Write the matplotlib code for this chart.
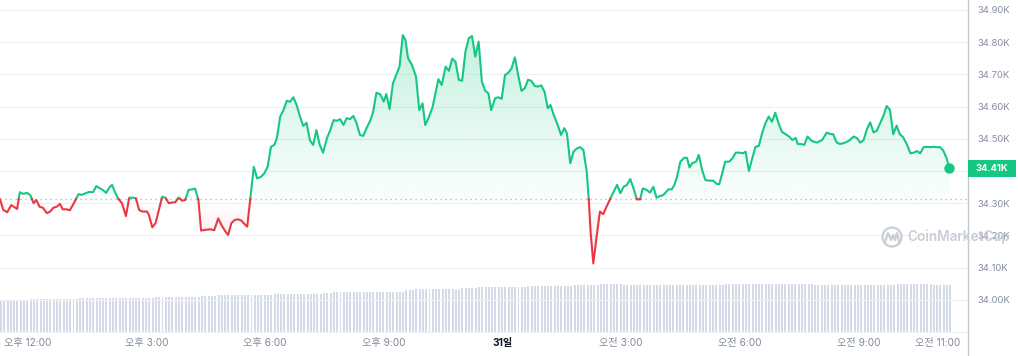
import numpy as np
import matplotlib
matplotlib.use('Agg')
import matplotlib.pyplot as plt
from matplotlib.patches import Rectangle, Circle
from matplotlib.path import Path
import matplotlib.transforms as mtransforms
from matplotlib.colors import to_rgb

plt.rcParams['font.family'] = ['Inter', 'Noto Sans CJK KR', 'DejaVu Sans']

# ---------------- data ----------------
# minutes since window start (11:18), price in USD
price_minutes = [
    0, 5, 11, 17, 21, 26, 30, 35, 41, 46, 51, 55, 60, 65, 71, 76, 81, 86, 91, 95,
    101, 106, 112, 119, 124, 130, 135, 141, 146, 151, 156, 161, 166, 170, 174, 179,
    185, 191, 196, 201, 206, 211, 216, 223, 226, 231, 236, 241, 246, 251, 256, 261,
    266, 271, 276, 281, 286, 291, 296, 301, 305, 314, 319, 325, 331, 336, 341, 346,
    351, 356, 361, 366, 371, 375,
    385, 390, 396, 401, 406, 411, 416, 420, 425, 430, 435, 440, 445, 450, 455, 460,
    465, 470, 475, 480, 485, 490, 496, 501, 506, 511, 516, 521, 526, 531, 536, 541,
    546, 551, 556, 562, 566, 571, 577, 582, 586, 591, 596, 601, 606, 611, 615, 619,
    625, 631, 636, 641, 645, 650, 656,
    665, 670, 676, 681, 686, 691, 696, 701, 706, 711, 716, 721, 726, 731, 736, 741,
    745, 751, 756, 761, 766, 771, 776, 781, 786, 791, 796, 801, 806, 811, 816, 821,
    826, 831, 835, 840, 846, 851, 856, 860, 865, 870, 875, 880, 885, 890, 893, 896,
    900, 905, 910, 915, 920, 926,
    936, 941, 946, 951, 956, 961, 966, 971, 975, 981, 986, 991, 996, 1001, 1006, 1014,
    1019, 1023, 1027, 1032, 1038, 1042, 1046, 1050, 1056, 1060, 1065, 1070, 1076, 1082,
    1087, 1091, 1095, 1100, 1106, 1111, 1116, 1122, 1127, 1131, 1136, 1141, 1146, 1151,
    1156, 1161, 1166, 1171, 1176, 1181, 1186, 1191, 1197, 1202, 1207,
    1210, 1215, 1220, 1225, 1231, 1239, 1247, 1254, 1259, 1264, 1269, 1274, 1279, 1287,
    1295, 1300, 1305, 1310, 1315, 1320, 1325, 1330, 1335, 1340, 1345, 1350, 1355, 1360,
    1365, 1370, 1376, 1381, 1386, 1391, 1396, 1401, 1406, 1411, 1416, 1421, 1426, 1431,
    1436, 1440,
]
price_values = [
    34312, 34279, 34272, 34294, 34289, 34282, 34334, 34329, 34332, 34325, 34300, 34310,
    34289, 34286, 34269, 34274, 34286, 34289, 34298, 34281, 34281, 34278, 34300, 34328,
    34326, 34331, 34335, 34334, 34353, 34347, 34341, 34332, 34349, 34357, 34336, 34315,
    34300, 34260, 34317, 34317, 34316, 34279, 34274, 34274, 34263, 34225, 34238, 34279,
    34320, 34317, 34300, 34302, 34303, 34318, 34308, 34310, 34341, 34343, 34345, 34310,
    34215, 34218, 34219, 34216, 34253, 34232, 34215, 34201, 34238, 34248, 34250, 34246,
    34235, 34227,
    34413, 34377, 34382, 34393, 34413, 34475, 34481, 34502, 34569, 34589, 34618, 34615,
    34629, 34605, 34569, 34540, 34550, 34496, 34481, 34527, 34481, 34457, 34502, 34527,
    34558, 34556, 34561, 34543, 34564, 34561, 34571, 34548, 34512, 34509, 34533, 34558,
    34584, 34643, 34638, 34615, 34639, 34592, 34672, 34698, 34724, 34822, 34807, 34750,
    34729, 34693, 34589, 34610, 34543, 34564, 34597,
    34685, 34667, 34724, 34711, 34749, 34739, 34683, 34680, 34770, 34812, 34819, 34755,
    34802, 34677, 34649, 34641, 34589, 34626, 34629, 34624, 34698, 34705, 34719, 34753,
    34698, 34649, 34657, 34683, 34680, 34664, 34662, 34666, 34646, 34595, 34605, 34574,
    34543, 34512, 34533, 34517, 34424, 34460, 34470, 34474, 34465, 34398, 34315, 34207,
    34113, 34196, 34274, 34266, 34289, 34315,
    34357, 34331, 34351, 34357, 34375, 34346, 34312, 34312, 34346, 34341, 34333, 34351,
    34317, 34322, 34325, 34343, 34343, 34357, 34382, 34429, 34441, 34441, 34411, 34424,
    34429, 34450, 34403, 34372, 34370, 34370, 34360, 34359, 34388, 34429, 34429, 34439,
    34457, 34457, 34455, 34460, 34400, 34439, 34475, 34478, 34517, 34548, 34569, 34553,
    34581, 34548, 34522, 34515, 34507, 34496, 34503,
    34484, 34484, 34481, 34507, 34494, 34488, 34496, 34519, 34515, 34514, 34489, 34484,
    34486, 34493, 34507, 34502, 34488, 34496, 34530, 34551, 34520, 34525, 34548, 34571,
    34602, 34590, 34514, 34541, 34514, 34505, 34481, 34455, 34457, 34462, 34455, 34474,
    34475, 34474, 34475, 34474, 34474, 34463, 34439, 34408,
]
open_price = 34313

tick_minutes = [42, 222, 402, 582, 762, 942, 1122, 1302, 1422]
tick_labels = ['오후 12:00', '오후 3:00', '오후 6:00', '오후 9:00', '31일',
               '오전 3:00', '오전 6:00', '오전 9:00', '오전 11:00']

grid_values = [33900, 34000, 34100, 34200, 34300, 34400, 34500, 34600, 34700, 34800, 34900]
y_ticks = [34000, 34100, 34200, 34300, 34500, 34600, 34700, 34800, 34900]
y_tick_labels = ['34.00K', '34.10K', '34.20K', '34.30K',
                 '34.50K', '34.60K', '34.70K', '34.80K', '34.90K']
current_label = '34.41K'

# 24h volume (B USD) as read in plateaus: segment end (minutes) and level
vol_seg_end = [41, 118, 231, 303, 329, 384, 414, 485, 501, 611, 625, 687, 695, 724,
               799, 865, 906, 940, 975, 1021, 1097, 1233, 1355, 1411, 1445]
vol_level = [16.7, 17.0, 17.35, 17.85, 18.35, 18.85, 19.2, 19.7, 20.2, 20.5, 21.35,
             21.85, 21.35, 22.5, 23.0, 23.5, 24.0, 24.7, 24.2, 23.85, 24.2, 24.7,
             24.2, 24.7, 24.2]
vol_bar_step = 5

# ---------------- style ----------------
GREEN = '#16c784'
RED = '#ea3943'
W, H = 1018, 356
fig = plt.figure(figsize=(W / 100, H / 100), dpi=100)
fig.patch.set_facecolor('white')

axw = 968 / W
ax = fig.add_axes([0, 0, axw, 1])
xmax = 968 * 1440 / 949.3
ylo, yhi = 33825.5, 34931

# volume
ax_v = fig.add_axes([0, 23 / H, axw, 60 / H], zorder=0)
ax.set_zorder(1)
ax.patch.set_alpha(0)
bar_t = np.arange(0, 1441, vol_bar_step)
idx = np.searchsorted(np.array(vol_seg_end), bar_t, side='left')
bar_v = np.array(vol_level)[np.clip(idx, 0, len(vol_level) - 1)]
ax_v.bar(bar_t + 1.5, bar_v, width=3.0, color='#d4dae7', linewidth=0)
ax_v.set_xlim(0, xmax)
ax_v.set_ylim(0, 30)
ax_v.axis('off')

# price: insert baseline crossings
t = np.array(price_minutes, float)
p = np.array(price_values, float)
base = open_price
tt, pp = [t[0]], [p[0]]
for i in range(1, len(t)):
    a, b = p[i - 1] - base, p[i] - base
    if a * b < 0:
        f = a / (a - b)
        tt.append(t[i - 1] + f * (t[i] - t[i - 1]))
        pp.append(base)
    tt.append(t[i])
    pp.append(p[i])
tt = np.array(tt)
pp = np.array(pp)


def grad_fill(mask, color, y0, y1, a0, a1):
    pc = ax.fill_between(tt, pp, base, where=mask, facecolor='none',
                         edgecolor='none', linewidth=0)
    paths = pc.get_paths()
    if not paths:
        return
    comp = Path.make_compound_path(*paths)
    n = 256
    rgba = np.zeros((n, 1, 4))
    rgba[..., :3] = to_rgb(color)
    rgba[:, 0, 3] = np.linspace(a0, a1, n)
    im = ax.imshow(rgba, extent=[tt.min(), tt.max(), y0, y1], origin='lower',
                   aspect='auto', zorder=1, interpolation='bilinear')
    im.set_clip_path(comp, transform=ax.transData)


grad_fill(pp >= base, GREEN, base, 34850, 0.02, 0.26)
grad_fill(pp <= base, RED, 34100, base, 0.14, 0.0)

green = np.where(pp >= base, pp, np.nan)
red = np.where(pp <= base, pp, np.nan)
ax.plot(tt, green, color=GREEN, lw=1.5, zorder=3, solid_joinstyle='round')
ax.plot(tt, red, color=RED, lw=1.5, zorder=3, solid_joinstyle='round')
ax.plot(t[-1], p[-1], 'o', ms=6.5, color=GREEN, zorder=4, clip_on=False)

# baseline (open price)
ax.axhline(base, color='#a6b0c3', lw=0.9, linestyle=(0, (1, 3)), zorder=2)

# grid
for yv in grid_values:
    ax.axhline(yv, color='#eff2f5', lw=0.9, zorder=0.5)

ax.set_xlim(0, xmax)
ax.set_ylim(ylo, yhi)
ax.set_xticks([])
ax.yaxis.tick_right()
ax.set_yticks(y_ticks)
ax.set_yticklabels(y_tick_labels)
ax.tick_params(axis='y', length=0, pad=6.5, labelsize=6.8, labelcolor='#858ca2')
for s in ['top', 'left', 'bottom']:
    ax.spines[s].set_visible(False)
ax.spines['right'].set_color('#c4c9d2')
ax.spines['right'].set_linewidth(1)

# time labels
bl = mtransforms.blended_transform_factory(ax.transData, ax.transAxes)
for tm, lab in zip(tick_minutes, tick_labels):
    if lab.endswith('일'):
        ax.text(tm, 13 / H, lab, transform=bl, ha='center', va='center',
                fontsize=7.3, color='#0d1421', fontweight='bold')
    else:
        ax.text(tm, 13 / H, lab, transform=bl, ha='center', va='center',
                fontsize=7.3, color='#808a9d')

# current price tag
bl2 = mtransforms.blended_transform_factory(fig.transFigure, ax.transData)
hh = 17 * (yhi - ylo) / H
ax.add_patch(Rectangle((968 / W, p[-1] - hh / 2), 48 / W, hh, transform=bl2,
                       facecolor=GREEN, edgecolor='none', clip_on=False, zorder=5))
ax.text(992 / W, p[-1], current_label, transform=bl2, ha='center', va='center',
        fontsize=6.8, color='white', fontweight='bold', zorder=6, clip_on=False)

# watermark
wm = '#c9ced6'
circ = Circle((892, H - 237), 9.5, transform=mtransforms.IdentityTransform(),
              facecolor='none', edgecolor=wm, lw=1.6, zorder=10)
fig.patches.append(circ)
mx = np.array([885, 888, 891, 893, 895, 897, 899])
my = H - np.array([242, 233, 240, 235, 240, 233, 241])
fig.lines.append(plt.Line2D(mx, my, transform=mtransforms.IdentityTransform(),
                            color=wm, lw=1.6, zorder=10))
fig.text(907 / W, 1 - 237 / H, 'CoinMarketCap', ha='left', va='center',
         fontsize=9.8, color=wm, fontweight='semibold', zorder=10)

fig.savefig('out.png', dpi=100, facecolor='white')
